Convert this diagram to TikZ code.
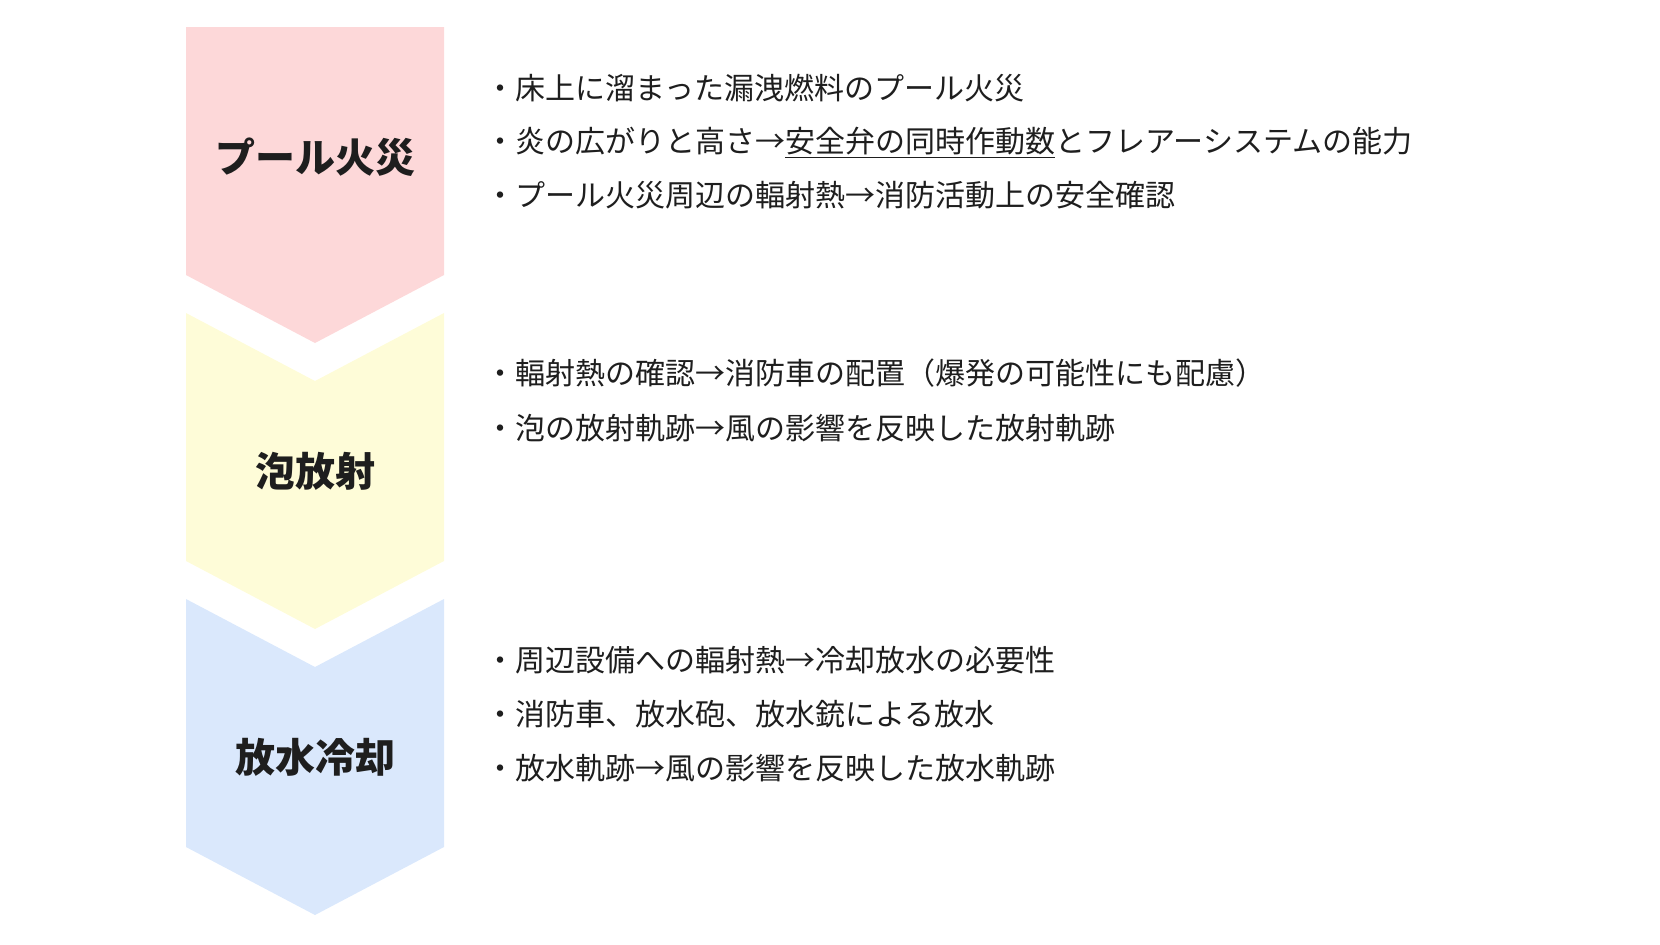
\documentclass[tikz,border=0pt]{standalone}
\usepackage{fontspec}
\setmainfont{Noto Sans CJK JP}
\usepackage[x11names, rgb]{xcolor}
\usepackage{tikz}
\usetikzlibrary{positioning}

\definecolor{firepink}{HTML}{FDD8D9}
\definecolor{foamyellow}{HTML}{FEFCD8}
\definecolor{waterblue}{HTML}{DAE8FC}
\definecolor{inkgray}{HTML}{1E1E1E}

\begin{document}
\begin{tikzpicture}
[x=0.5pt,y=-0.5pt]
\tikzset{
	stagelabel/.style = {inner sep = 0, text = inkgray, font = \fontsize{20}{24}\selectfont\bfseries},
	item/.style = {anchor = west, inner sep = 0, text = inkgray, font = \fontsize{15}{18}\selectfont}
}
\useasboundingbox (0,0) rectangle (1660,944);

% chevrons
\fill [firepink] (186,27) -- (444,27) -- (444,275) -- (315,343) -- (186,275) -- cycle;
\fill [foamyellow] (186,313) -- (315,381) -- (444,313) -- (444,561) -- (315,629) -- (186,561) -- cycle;
\fill [waterblue] (186,599) -- (315,667) -- (444,599) -- (444,847) -- (315,915) -- (186,847) -- cycle;

\node (fire) [stagelabel] at (315,157) {プール火災};
\node (foam) [stagelabel] at (315,471) {泡放射};
\node (water) [stagelabel] at (315,757) {放水冷却};

% items
\node (fire1) [item] at (485,88) {・床上に溜まった漏洩燃料のプール火災};
\node (fire2) [item] at (485,143) {・炎の広がりと高さ→\underline{安全弁の同時作動数}とフレアーシステムの能力};
\node (fire3) [item] at (485,195) {・プール火災周辺の輻射熱→消防活動上の安全確認};

\node (foam1) [item] at (485,373) {・輻射熱の確認→消防車の配置（爆発の可能性にも配慮）};
\node (foam2) [item] at (485,428) {・泡の放射軌跡→風の影響を反映した放射軌跡};

\node (water1) [item] at (485,660) {・周辺設備への輻射熱→冷却放水の必要性};
\node (water2) [item] at (485,714) {・消防車、放水砲、放水銃による放水};
\node (water3) [item] at (485,768) {・放水軌跡→風の影響を反映した放水軌跡};
\end{tikzpicture}
\end{document}
